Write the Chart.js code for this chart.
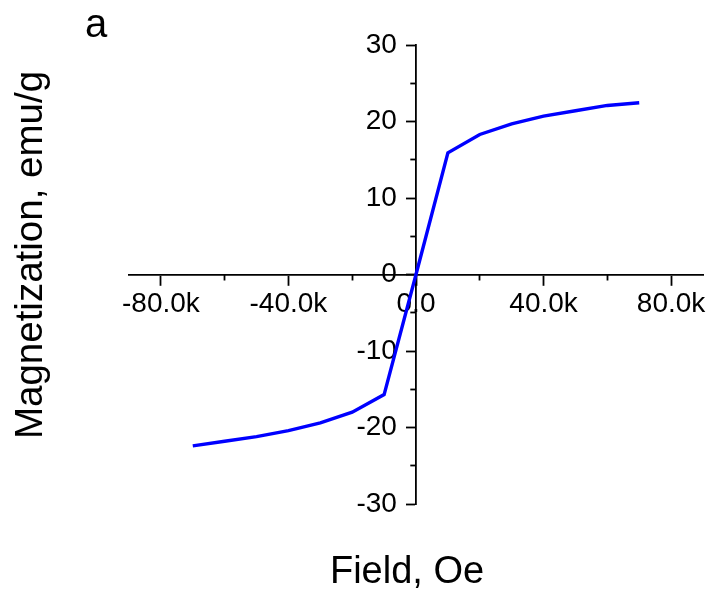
<!DOCTYPE html>
<html>
<head>
<meta charset="utf-8">
<script src="https://cdn.jsdelivr.net/npm/chart.js@4"></script>
<style>
  html, body { margin: 0; padding: 0; background: #fff; }
  canvas { display: block; }
</style>
</head>
<body>
<canvas id="chart" width="709" height="592"></canvas>
<script>
// Magnetization curve: applied field (Oe) vs magnetization (emu/g)
const fieldOe = [-70000, -60000, -50000, -40000, -30000, -20000, -10000, 0,
                 10000, 20000, 30000, 40000, 50000, 60000, 70000];
const magnetization = [-22.4, -21.8, -21.2, -20.4, -19.4, -18.0, -15.7, 0,
                       15.9, 18.3, 19.7, 20.7, 21.4, 22.1, 22.45];

// Axis ticks (major ones are labelled, minor ones are short marks only)
const xMajorTicks = [-80000, -40000, 0, 40000, 80000];
const xMinorTicks = [-60000, -20000, 20000, 60000];
const yMajorTicks = [-30, -20, -10, 0, 10, 20, 30];
const yMinorTicks = [-25, -15, -5, 5, 15, 25];

const xTitle = 'Field, Oe';
const yTitle = 'Magnetization, emu/g';
const panelLetter = 'a';

const FONT = "'Liberation Sans', Arial, Helvetica, sans-serif";
const tickFont = { family: FONT, size: 28 };

// The y-axis labels sit a little left of the axis line; their anchor is a
// field value just left of zero on the x scale.
const Y_LABEL_ANCHOR = -6000;

function fmtField(v) {
  return v === 0 ? '0.0' : (v / 1000).toFixed(1) + 'k';
}

function fixedTicks(list) {
  return scale => { scale.ticks = list.map(v => ({ value: v })); };
}

const textPlugin = {
  id: 'axisTexts',
  afterDraw(chart) {
    const ctx = chart.ctx;
    ctx.save();
    ctx.fillStyle = '#000';
    ctx.textBaseline = 'alphabetic';

    ctx.font = `38px ${FONT}`;
    ctx.textAlign = 'center';
    ctx.fillText(xTitle, 407, 583);

    ctx.save();
    ctx.translate(42, 255);
    ctx.rotate(-Math.PI / 2);
    ctx.font = `38.5px ${FONT}`;
    ctx.textAlign = 'center';
    ctx.fillText(yTitle, 0, 0);
    ctx.restore();

    ctx.font = `40px ${FONT}`;
    ctx.textAlign = 'left';
    ctx.fillText(panelLetter, 85, 37);
    ctx.restore();
  }
};

const markGrid = (len) => ({ drawOnChartArea: false, drawTicks: true, tickLength: len,
                             tickWidth: 1.8, tickColor: '#000' });

new Chart(document.getElementById('chart'), {
  type: 'scatter',
  data: {
    datasets: [{
      data: fieldOe.map((x, i) => ({ x: x, y: magnetization[i] })),
      showLine: true,
      borderColor: '#0000ff',
      backgroundColor: '#0000ff',
      borderWidth: 3.4,
      pointRadius: 0,
      tension: 0,
      xAxisID: 'x',
      yAxisID: 'y'
    }]
  },
  options: {
    responsive: false,
    animation: false,
    devicePixelRatio: 1,
    layout: { padding: { left: 129, right: 6, top: 45, bottom: 88 } },
    plugins: { legend: { display: false }, tooltip: { enabled: false } },
    scales: {
      x: {
        type: 'linear', display: true,
        position: { y: 0 },
        min: -90000, max: 90000,
        afterBuildTicks: fixedTicks(xMajorTicks),
        ticks: { callback: fmtField, font: tickFont, color: '#000', padding: 3,
                 maxRotation: 0, autoSkip: false },
        grid: markGrid(10),
        border: { display: true, color: '#000', width: 1.8 }
      },
      xMinor: {
        type: 'linear', display: true, axis: 'x',
        position: { y: 0 },
        min: -90000, max: 90000,
        afterBuildTicks: fixedTicks(xMinorTicks),
        ticks: { display: false },
        grid: markGrid(5.5),
        border: { display: false }
      },
      y: {
        type: 'linear', display: true,
        position: { x: 0 },
        min: -30, max: 30,
        afterBuildTicks: fixedTicks(yMajorTicks),
        ticks: { display: false },
        grid: markGrid(9),
        border: { display: true, color: '#000', width: 1.8 }
      },
      yMinor: {
        type: 'linear', display: true, axis: 'y',
        position: { x: 0 },
        min: -30, max: 30,
        afterBuildTicks: fixedTicks(yMinorTicks),
        ticks: { display: false },
        grid: markGrid(5.7),
        border: { display: false }
      },
      yLabels: {
        type: 'linear', display: true, axis: 'y',
        position: { x: Y_LABEL_ANCHOR },
        min: -30, max: 30,
        afterBuildTicks: fixedTicks(yMajorTicks),
        ticks: { font: tickFont, color: '#000', padding: 0, autoSkip: false },
        grid: { display: false, drawTicks: false },
        border: { display: false }
      }
    }
  },
  plugins: [textPlugin]
});
</script>
</body>
</html>
